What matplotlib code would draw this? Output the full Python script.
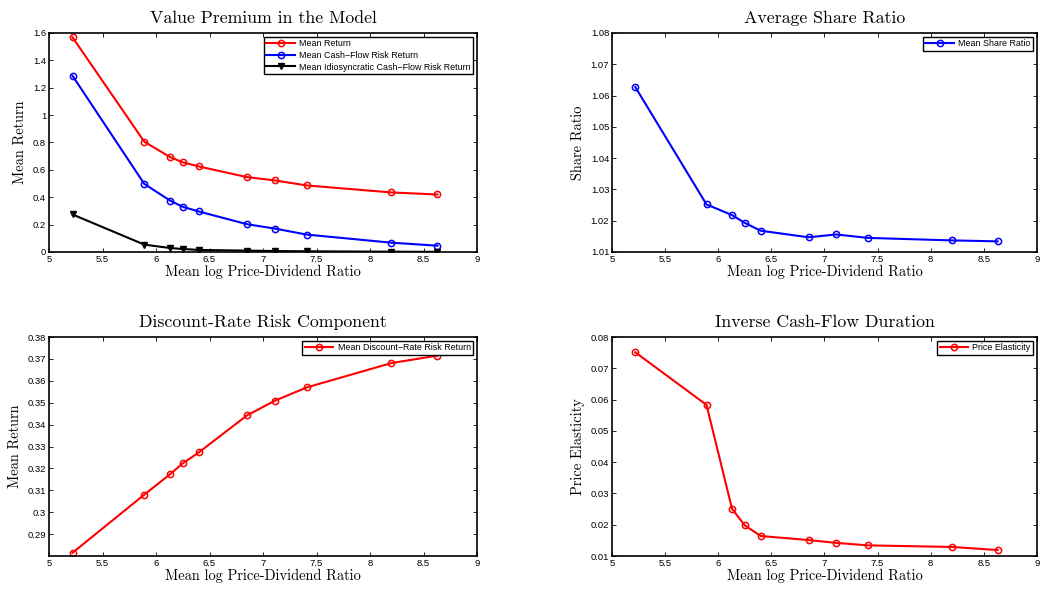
import matplotlib
matplotlib.use("Agg")
import matplotlib.pyplot as plt

# mean log price-dividend ratio of each portfolio
pd_ratio = [5.22, 5.89, 6.13, 6.25, 6.40, 6.85, 7.11, 7.41, 8.20, 8.63]

mean_return = [1.568, 0.806, 0.694, 0.655, 0.625, 0.547, 0.523, 0.486, 0.435, 0.420]
cf_risk_return = [1.287, 0.498, 0.376, 0.330, 0.296, 0.203, 0.171, 0.127, 0.068, 0.046]
idio_cf_return = [0.274, 0.054, 0.029, 0.022, 0.015, 0.010, 0.007, 0.005, 0.002, 0.001]

share_ratio = [1.0627, 1.0252, 1.0218, 1.0193, 1.0168, 1.0147, 1.0156, 1.0145, 1.0137, 1.0134]

dr_risk_return = [0.2815, 0.3080, 0.3173, 0.3223, 0.3273, 0.3442, 0.3509, 0.3570, 0.3681, 0.3715]

price_elasticity = [0.0751, 0.0583, 0.0251, 0.0198, 0.0164, 0.0151, 0.0142, 0.0134, 0.0129, 0.0119]

x_ticks = [5, 5.5, 6, 6.5, 7, 7.5, 8, 8.5, 9]
x_ticklabels = ["5", "5.5", "6", "6.5", "7", "7.5", "8", "8.5", "9"]

plt.rcParams["font.family"] = ["Liberation Sans", "DejaVu Sans"]
plt.rcParams["axes.formatter.use_mathtext"] = False

SERIF = ["cmr10", "DejaVu Serif"]
TICK_FS = 6.8
LEG_FS = 6.4


def style_axes(ax, title, ylabel):
    ax.set_xlim(5, 9)
    ax.set_xticks(x_ticks)
    ax.set_xticklabels(x_ticklabels)
    ax.tick_params(direction="in", top=True, right=True, labelsize=TICK_FS,
                   length=3, width=0.6, pad=2)
    for s in ax.spines.values():
        s.set_linewidth(1.2)
    ax.set_title(title, family=SERIF, fontsize=12.8, pad=7)
    ax.set_xlabel("Mean log Price-Dividend Ratio", family=SERIF, fontsize=10.4, labelpad=1)
    ax.set_ylabel(ylabel, family=SERIF, fontsize=10.4, labelpad=4)


def add_legend(ax):
    leg = ax.legend(loc="upper right", fontsize=LEG_FS, fancybox=False,
                    framealpha=1, edgecolor="black", borderpad=0.3,
                    handlelength=3.2, handletextpad=0.5, labelspacing=0.3,
                    borderaxespad=0.4)
    leg.get_frame().set_linewidth(1.0)


fig = plt.figure(figsize=(10.45, 5.9), dpi=100)
ax1 = fig.add_axes([0.0469, 0.5729, 0.4096, 0.3712])
ax2 = fig.add_axes([0.5856, 0.5729, 0.4067, 0.3712])
ax3 = fig.add_axes([0.0469, 0.0576, 0.4096, 0.3712])
ax4 = fig.add_axes([0.5856, 0.0576, 0.4067, 0.3712])

mk = dict(marker="o", markersize=4.5, markerfacecolor="none", markeredgewidth=1.1, linewidth=1.5)

# top left
ax1.plot(pd_ratio, mean_return, color="red", label="Mean Return", **mk)
ax1.plot(pd_ratio, cf_risk_return, color="blue", label="Mean Cash\u2212Flow Risk Return", **mk)
ax1.plot(pd_ratio, idio_cf_return, color="black", marker="v", markersize=5,
         markerfacecolor="black", markeredgewidth=1.0, linewidth=1.5,
         label="Mean Idiosyncratic Cash\u2212Flow Risk Return")
ax1.set_ylim(0, 1.6)
ax1.set_yticks([0, 0.2, 0.4, 0.6, 0.8, 1.0, 1.2, 1.4, 1.6])
ax1.set_yticklabels(["0", "0.2", "0.4", "0.6", "0.8", "1", "1.2", "1.4", "1.6"])
style_axes(ax1, "Value Premium in the Model", "Mean Return")
add_legend(ax1)

# top right
ax2.plot(pd_ratio, share_ratio, color="blue", label="Mean Share Ratio", **mk)
ax2.set_ylim(1.01, 1.08)
ax2.set_yticks([1.01, 1.02, 1.03, 1.04, 1.05, 1.06, 1.07, 1.08])
ax2.set_yticklabels(["1.01", "1.02", "1.03", "1.04", "1.05", "1.06", "1.07", "1.08"])
style_axes(ax2, "Average Share Ratio", "Share Ratio")
add_legend(ax2)

# bottom left
ax3.plot(pd_ratio, dr_risk_return, color="red", label="Mean Discount\u2212Rate Risk Return", **mk)
ax3.set_ylim(0.28, 0.38)
ax3.set_yticks([0.29, 0.30, 0.31, 0.32, 0.33, 0.34, 0.35, 0.36, 0.37, 0.38])
ax3.set_yticklabels(["0.29", "0.3", "0.31", "0.32", "0.33", "0.34", "0.35", "0.36", "0.37", "0.38"])
style_axes(ax3, "Discount-Rate Risk Component", "Mean Return")
add_legend(ax3)

# bottom right
ax4.plot(pd_ratio, price_elasticity, color="red", label="Price Elasticity", **mk)
ax4.set_ylim(0.01, 0.08)
ax4.set_yticks([0.01, 0.02, 0.03, 0.04, 0.05, 0.06, 0.07, 0.08])
ax4.set_yticklabels(["0.01", "0.02", "0.03", "0.04", "0.05", "0.06", "0.07", "0.08"])
style_axes(ax4, "Inverse Cash-Flow Duration", "Price Elasticity")
add_legend(ax4)

fig.savefig("out.png", dpi=100)
